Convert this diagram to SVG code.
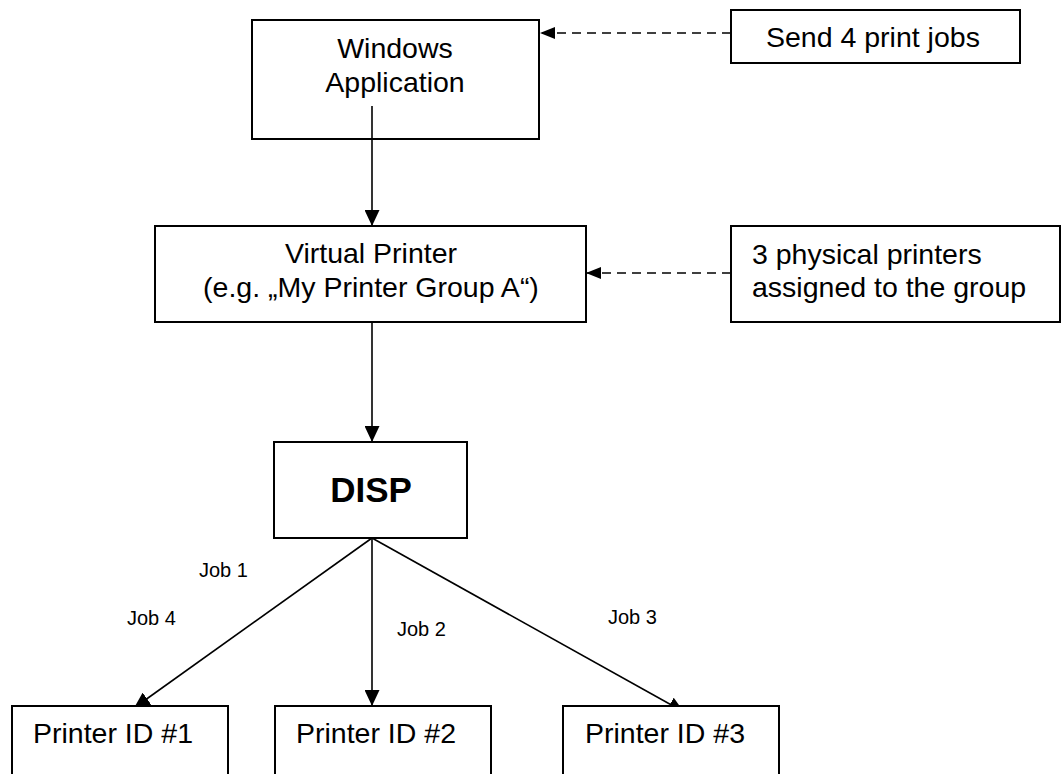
<svg xmlns="http://www.w3.org/2000/svg" width="1062" height="774" viewBox="0 0 1062 774">
<defs>
<style>
.box{fill:#fff;stroke:#000;stroke-width:2}
.t{font-family:"Liberation Sans",Arial,sans-serif;font-size:28.5px;fill:#000}
.j{font-family:"Liberation Sans",Arial,sans-serif;font-size:20px;fill:#000}
.b{font-family:"Liberation Sans",Arial,sans-serif;font-size:35px;font-weight:bold;fill:#000}
.ln{stroke:#000;stroke-width:1.6;fill:none}
.dash{stroke:#000;stroke-width:1.6;fill:none;stroke-dasharray:9 6}
</style>
<marker id="ah" markerUnits="userSpaceOnUse" markerWidth="16" markerHeight="15" refX="16" refY="7.5" orient="auto" viewBox="0 0 16 15">
<path d="M0,0 L16,7.5 L0,15 z" fill="#000"/>
</marker>
<marker id="ahd" markerUnits="userSpaceOnUse" markerWidth="15" markerHeight="12" refX="15" refY="6" orient="auto" viewBox="0 0 15 12">
<path d="M0,0 L15,6 L0,12 z" fill="#000"/>
</marker>
</defs>
<rect x="0" y="0" width="1062" height="774" fill="#fff"/>
<g id="connectors">
<line class="ln" x1="372" y1="106" x2="372" y2="226" marker-end="url(#ah)"/>
<line class="ln" x1="372" y1="322" x2="372" y2="442" marker-end="url(#ah)"/>
<line class="dash" x1="731" y1="33" x2="540" y2="33" marker-end="url(#ahd)"/>
<line class="dash" x1="731" y1="273" x2="586" y2="273" marker-end="url(#ahd)"/>
<line class="ln" x1="372" y1="538" x2="134" y2="708" marker-end="url(#ah)"/>
<line class="ln" x1="372" y1="538" x2="372" y2="706" marker-end="url(#ah)"/>
<line class="ln" x1="372" y1="538" x2="684" y2="712" marker-end="url(#ah)"/>
</g>
<g id="windows-app">
<rect x="252" y="20" width="287" height="119" fill="none" stroke="#000" stroke-width="2"/>
<text class="t" x="395" y="58" text-anchor="middle">Windows</text>
<text class="t" x="395" y="92" text-anchor="middle">Application</text>
</g>
<g id="send-jobs">
<rect class="box" x="731" y="10" width="289" height="53"/>
<text class="t" x="766" y="47">Send 4 print jobs</text>
</g>
<g id="virtual-printer">
<rect class="box" x="155" y="226" width="431" height="96"/>
<text class="t" x="371" y="263" text-anchor="middle">Virtual Printer</text>
<text class="t" x="371" y="297" text-anchor="middle">(e.g. „My Printer Group A“)</text>
</g>
<g id="physical-printers">
<rect class="box" x="731" y="226" width="329" height="96"/>
<text class="t" x="752" y="264">3 physical printers</text>
<text class="t" x="752" y="297">assigned to the group</text>
</g>
<g id="disp">
<rect class="box" x="274" y="442" width="193" height="96"/>
<text class="b" x="371" y="502" text-anchor="middle">DISP</text>
</g>
<g id="printer1">
<rect class="box" x="12" y="706" width="216" height="80"/>
<text class="t" x="33" y="743">Printer ID #1</text>
</g>
<g id="printer2">
<rect class="box" x="275" y="706" width="216" height="80"/>
<text class="t" x="296" y="743">Printer ID #2</text>
</g>
<g id="printer3">
<rect class="box" x="563" y="706" width="216" height="80"/>
<text class="t" x="585" y="743">Printer ID #3</text>
</g>
<g id="labels">
<text class="j" x="199" y="577">Job 1</text>
<text class="j" x="127" y="625">Job 4</text>
<text class="j" x="397" y="636">Job 2</text>
<text class="j" x="608" y="624">Job 3</text>
</g>
</svg>
